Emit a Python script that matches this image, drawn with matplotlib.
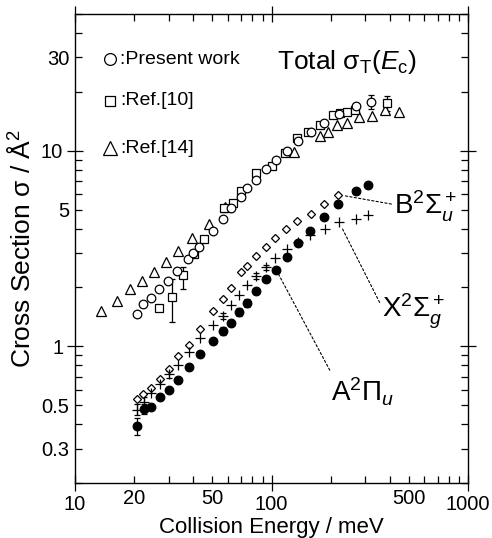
import matplotlib
matplotlib.use("Agg")
import matplotlib.pyplot as plt
from matplotlib.ticker import FixedLocator, FuncFormatter

plt.rcParams['font.family'] = ['Liberation Sans', 'DejaVu Sans']
plt.rcParams['mathtext.fontset'] = 'custom'
plt.rcParams['mathtext.rm'] = 'Liberation Sans'
plt.rcParams['mathtext.it'] = 'Liberation Sans:italic'
plt.rcParams['mathtext.bf'] = 'Liberation Sans:bold'

# total cross section, present work (open circles)
tot_x = [20.6, 22.3, 24.4, 26.8, 29.8, 33.2, 37.7, 40.0, 43.0, 50.2, 56.7, 62.5,
         70.3, 74.8, 83.5, 93.6, 105, 119.5, 135.7, 158, 185, 220, 268]
tot_y = [1.46, 1.65, 1.77, 1.97, 2.17, 2.44, 2.80, 3.0, 3.23, 3.87, 4.50, 5.07,
         5.82, 6.47, 7.06, 8.07, 9.0, 10.0, 11.2, 12.5, 13.9, 15.5, 16.9]
tot_err_x = [320]
tot_err_y = [17.8]
tot_err = [1.4]

# Ref.[10] (open squares)
r10_x = [26.8, 31.0, 35.6, 40.3, 45.5, 57.3, 63.5, 70.3, 83.5, 100, 117, 134,
         153.6, 176, 205, 223, 241, 267, 385]
r10_y = [1.57, 1.79, 2.32, 2.95, 3.55, 5.12, 5.38, 6.22, 7.70, 8.32, 9.73, 11.6,
         12.5, 13.6, 15.2, 15.6, 15.7, 16.1, 17.5]
r10_lo = [0, 0.46, 0.35, 0, 0, 0, 0, 0, 0, 0, 0, 0, 0, 0, 0, 0, 0, 0, 1.5]
r10_hi = [0, 0.42, 0.22, 0, 0, 0, 0, 0, 0, 0, 0, 0, 0, 0, 0, 0, 0, 0, 1.5]

# Ref.[14] (open triangles)
r14_x = [13.5, 16.4, 19.0, 21.8, 25.2, 29.0, 33.6, 39.2, 48.2, 57.9, 130, 176,
         194.5, 216, 243, 280, 324, 379, 447]
r14_y = [1.51, 1.70, 1.97, 2.17, 2.39, 2.71, 3.06, 3.57, 4.21, 5.18, 9.8, 11.9,
         12.4, 13.6, 13.9, 14.8, 15.0, 16.2, 15.8]

# state resolved cross sections
a_x = [20.7, 22.4, 24.5, 27.1, 30.0, 33.5, 37.9, 43.3, 50.2, 56.9, 62.3, 68.1,
       75.0, 83.1, 93.4, 105.4, 119.5, 136.8, 157, 185, 219, 268, 309]
a_y = [0.39, 0.48, 0.49, 0.55, 0.60, 0.67, 0.78, 0.91, 1.07, 1.20, 1.32, 1.50,
       1.67, 1.92, 2.20, 2.47, 2.87, 3.37, 3.89, 4.59, 5.36, 6.19, 6.72]
a_err = [0.04, 0.03, 0, 0, 0, 0, 0, 0, 0, 0.06, 0, 0.07, 0.08, 0, 0, 0, 0, 0,
         0, 0, 0, 0, 0]

b_x = [20.6, 22.3, 24.5, 27.1, 30.0, 33.6, 37.9, 43.3, 50.2, 56.9, 62.3, 70.0,
       74.8, 83.1, 93.4, 104, 118.5, 135, 158, 185, 219]
b_y = [0.54, 0.57, 0.61, 0.68, 0.77, 0.89, 1.02, 1.23, 1.52, 1.75, 1.99, 2.39,
       2.57, 2.89, 3.23, 3.57, 3.97, 4.38, 4.77, 5.36, 5.96]

x_x = [20.6, 22.4, 24.5, 27.1, 30.0, 33.6, 37.9, 43.3, 50.2, 56.9, 62.3, 68.0,
       75.0, 83.1, 93.4, 104, 119.5, 137, 157, 186, 221, 268, 309]
x_y = [0.475, 0.52, 0.58, 0.64, 0.72, 0.80, 0.94, 1.10, 1.29, 1.43, 1.63, 1.84,
       2.05, 2.29, 2.54, 2.83, 3.14, 3.40, 3.70, 3.97, 4.30, 4.50, 4.68]
x_err = [0.03, 0.03, 0, 0, 0.03, 0, 0, 0, 0, 0.05, 0, 0, 0, 0.07, 0.08, 0, 0, 0,
         0, 0, 0, 0, 0]

x_ticks_major = [10, 100, 1000]
x_ticks_minor = [20, 30, 40, 50, 60, 70, 80, 90, 200, 300, 400, 500, 600, 700, 800, 900]
x_labels = [10, 20, 50, 100, 500, 1000]
y_ticks_major = [1, 10]
y_ticks_minor = [0.2, 0.3, 0.4, 0.5, 0.6, 0.7, 0.8, 0.9, 2, 3, 4, 5, 6, 7, 8, 9,
                 20, 30, 40, 50]
y_labels = [0.3, 0.5, 1, 5, 10, 30]

fig = plt.figure(figsize=(4.92, 5.38), dpi=100)
ax = fig.add_axes([0.1524, 0.1022, 0.799, 0.8717])
ax.set_xscale('log')
ax.set_yscale('log')
ax.set_xlim(10, 1000)
ax.set_ylim(0.2, 50)


def with_err(xs, ys, es):
    px = [a for a, e in zip(xs, es) if e > 0]
    py = [b for b, e in zip(ys, es) if e > 0]
    pe = [e for e in es if e > 0]
    return px, py, pe


def only(labels):
    return FuncFormatter(lambda v, p: ('%g' % v) if any(abs(v - l) < 1e-9 for l in labels) else '')


ekw = dict(fmt='none', ecolor='k', elinewidth=0.9, capsize=2.5, capthick=0.9)

# error bars first
ex, ey, ee = with_err(a_x, a_y, a_err)
ax.errorbar(ex, ey, yerr=ee, **ekw)
ex, ey, ee = with_err(x_x, x_y, x_err)
ax.errorbar(ex, ey, yerr=ee, **ekw)
sel = [i for i in range(len(r10_x)) if r10_lo[i] > 0]
ax.errorbar([r10_x[i] for i in sel], [r10_y[i] for i in sel],
            yerr=[[r10_lo[i] for i in sel], [r10_hi[i] for i in sel]], **ekw)
ax.errorbar(tot_err_x, tot_err_y, yerr=tot_err, **ekw)

mk = dict(linestyle='none', markeredgecolor='k', markeredgewidth=0.9)
ax.plot(r14_x, r14_y, marker='^', ms=6.5, mfc='white', **mk)
ax.plot(r10_x, r10_y, marker='s', ms=5.2, mfc='white', **mk)
ax.plot(tot_x + tot_err_x, tot_y + tot_err_y, marker='o', ms=6.2, mfc='white', **mk)
ax.plot(b_x, b_y, marker='D', ms=3.8, mfc='white', **mk)
ax.plot(x_x, x_y, marker='+', ms=6.5, color='k', **mk)
ax.plot(a_x, a_y, marker='o', ms=6.2, mfc='k', **mk)

# ticks
ax.xaxis.set_major_locator(FixedLocator(x_ticks_major))
ax.xaxis.set_minor_locator(FixedLocator(x_ticks_minor))
ax.yaxis.set_major_locator(FixedLocator(y_ticks_major))
ax.yaxis.set_minor_locator(FixedLocator(y_ticks_minor))
ax.xaxis.set_major_formatter(only(x_labels))
ax.xaxis.set_minor_formatter(only(x_labels))
ax.yaxis.set_major_formatter(only(y_labels))
ax.yaxis.set_minor_formatter(only(y_labels))
ax.tick_params(which='both', top=True, right=True, labelsize=14.5, width=0.9)
ax.tick_params(which='major', direction='inout', length=11, pad=3)
ax.tick_params(which='minor', direction='in', length=5, pad=4)
for s in ax.spines.values():
    s.set_linewidth(1.0)

ax.set_xlabel('Collision Energy / meV', fontsize=16, labelpad=2)
ax.set_ylabel('Cross Section σ / Å$^2$', fontsize=19, labelpad=4)

# legend drawn as text
leg_y = [0.904, 0.815, 0.714]
leg_m = ['o', 's', '^']
leg_ms = [8.5, 7.5, 9.5]
leg_t = [':Present work', ':Ref.[10]', ':Ref.[14]']
for yy, m, s, t in zip(leg_y, leg_m, leg_ms, leg_t):
    ax.plot([0.089], [yy], marker=m, ms=s, mfc='white', mec='k', mew=0.9,
            transform=ax.transAxes, clip_on=False)
    ax.text(0.114, yy, t, transform=ax.transAxes, fontsize=14, va='center', ha='left')

ax.text(0.515, 0.898, 'Total σ$_{\\mathrm{T}}$($E_{\\mathrm{c}}$)', transform=ax.transAxes,
        fontsize=19, va='center', ha='left')

akw = dict(xycoords='data', textcoords='axes fraction', fontsize=20, ha='left', va='center')
ax.annotate(r'B$^2\Sigma_u^+$', xy=(b_x[-1], b_y[-1]), xytext=(0.812, 0.59),
            arrowprops=dict(arrowstyle='-', linestyle=(0, (2, 2)), lw=0.8, color='k',
                            relpos=(0, 0.55), shrinkA=0, shrinkB=4), **akw)
ax.annotate(r'X$^2\Sigma_g^+$', xy=(x_x[-3], x_y[-3]), xytext=(0.782, 0.365),
            arrowprops=dict(arrowstyle='-', linestyle=(0, (2, 2)), lw=0.8, color='k',
                            relpos=(0, 0.6), shrinkA=0, shrinkB=4), **akw)
ax.annotate(r'A$^2\Pi_u$', xy=(a_x[15], a_y[15]), xytext=(0.652, 0.195),
            arrowprops=dict(arrowstyle='-', linestyle=(0, (2, 2)), lw=0.8, color='k',
                            relpos=(0.02, 1.0), shrinkA=2, shrinkB=4), **akw)

fig.savefig('out.png', dpi=100)
